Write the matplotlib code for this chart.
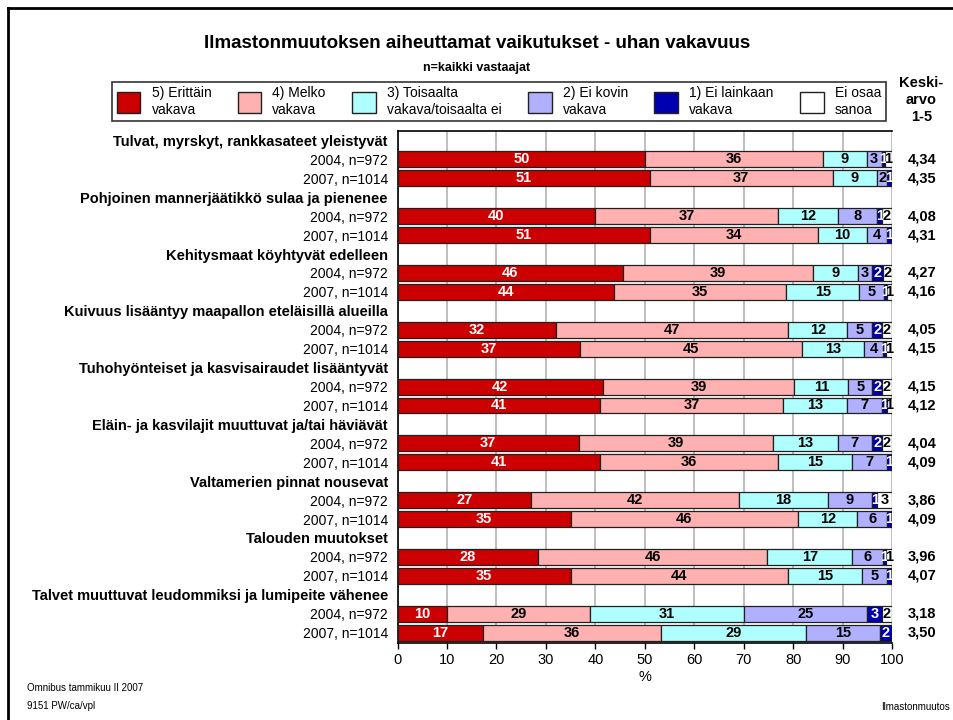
import matplotlib
matplotlib.use('Agg')
import matplotlib.pyplot as plt
from matplotlib.patches import Patch
from matplotlib.lines import Line2D
import numpy as np

plt.rcParams['font.family'] = ['Liberation Sans', 'DejaVu Sans']

## Data

topics = ['Tulvat, myrskyt, rankkasateet yleistyvät',
          'Pohjoinen mannerjäätikkö sulaa ja pienenee',
          'Kehitysmaat köyhtyvät edelleen',
          'Kuivuus lisääntyy maapallon eteläisillä alueilla',
          'Tuhohyönteiset ja kasvisairaudet lisääntyvät',
          'Eläin- ja kasvilajit muuttuvat ja/tai häviävät',
          'Valtamerien pinnat nousevat',
          'Talouden muutokset',
          'Talvet muuttuvat leudommiksi ja lumipeite vähenee']
years = ['2004, n=972', '2007, n=1014']

categories = ['5) Erittäin\nvakava', '4) Melko\nvakava', '3) Toisaalta\nvakava/toisaalta ei',
              '2) Ei kovin\nvakava', '1) Ei lainkaan\nvakava', 'Ei osaa\nsanoa']

# rows: 2004 / 2007 per topic
erittain = [50.1, 51, 40, 51, 45.5, 43.8, 32, 37.0, 41.6, 41, 36.6, 41, 27, 35, 28.4, 35, 10, 17.3]
melko = [36.0, 37, 37, 34, 38.6, 34.8, 47, 44.7, 38.6, 37, 39.4, 36, 42, 46, 46.4, 44, 29, 36.0]
toisaalta = [8.8, 9, 12, 10, 9.0, 14.8, 12, 12.7, 11.0, 13, 13.0, 15, 18, 12, 17.2, 15, 31, 29.3]
ei_kovin = [3.0, 2, 8, 4, 2.9, 4.9, 5, 3.7, 4.8, 7, 7.0, 7, 9, 6, 6.1, 5, 25, 15.0]
ei_lainkaan = [0.7, 1, 1, 1, 2.2, 0.6, 2, 0.6, 2.0, 1, 2.0, 1, 1, 1, 0.6, 1, 3, 2.4]
eos = [1.4, 0, 2, 0, 1.8, 1.1, 2, 1.3, 2.0, 1, 2.0, 0, 3, 0, 1.3, 0, 2, 0]

keskiarvo = [4.34, 4.35, 4.08, 4.31, 4.27, 4.16, 4.05, 4.15, 4.15, 4.12,
             4.04, 4.09, 3.86, 4.09, 3.96, 4.07, 3.18, 3.50]

series = [erittain, melko, toisaalta, ei_kovin, ei_lainkaan, eos]
colors = ['#CC0000', '#FFB0B0', '#B0FFFF', '#B0B0FF', '#0000B0', '#FFFFFF']
text_colors = ['white', 'black', 'black', 'black', 'white', 'black']

## Figure

fig = plt.figure(figsize=(9.54, 7.2), dpi=100)
ax = fig.add_axes([0.4167, 0.1069, 0.935 - 0.4167, 0.818 - 0.1069])

# row positions: header row then two year rows for each topic
labels = []
bar_y = []
for i, t in enumerate(topics):
    labels += [t] + years
    bar_y += [3 * i + 1, 3 * i + 2]
bar_y = np.array(bar_y)

left = np.zeros(len(bar_y))
for vals, col, tcol in zip(series, colors, text_colors):
    vals = np.array(vals, dtype=float)
    ax.barh(bar_y, vals, left=left, height=0.84, color=col,
            edgecolor='#202020', linewidth=0.9, zorder=3)
    for y, l, v in zip(bar_y, left, vals):
        if v > 0:
            ax.text(l + v / 2, y, '%d' % round(v), ha='center', va='center',
                    color=tcol, fontsize=10.5, fontweight='bold', zorder=4)
    left += vals

for y, m in zip(bar_y, keskiarvo):
    ax.text(106.1, y, ('%.2f' % m).replace('.', ','), ha='center', va='center',
            fontsize=10.5, fontweight='bold', clip_on=False)

ax.set_xlim(0, 100)
ax.set_ylim(26.55, -0.5)
ax.set_xticks(np.arange(0, 101, 10))
ax.set_yticks(np.arange(len(labels)))
ax.set_yticklabels(labels, fontsize=10)
for k, tl in enumerate(ax.get_yticklabels()):
    if k % 3 == 0:
        tl.set_fontweight('bold')
        tl.set_fontsize(10.5)
ax.tick_params(axis='y', length=0, pad=7)
ax.tick_params(axis='x', labelsize=10.5, direction='out', length=4, width=1)
ax.set_xlabel('%', fontsize=10.5, labelpad=2)
ax.grid(axis='x', color='#B4B4B4', linewidth=1.2, zorder=0)
ax.spines['right'].set_visible(False)
for s in ['left', 'top', 'bottom']:
    ax.spines[s].set_linewidth(1.2)

handles = [Patch(facecolor=c, edgecolor='#202020', linewidth=1) for c in colors]
leg = fig.legend(handles, categories, loc='center', bbox_to_anchor=(0.523, 0.859),
                 ncol=6, fontsize=10, frameon=True, fancybox=False, edgecolor='black',
                 handlelength=1.7, handleheight=1.9, columnspacing=1.9, handletextpad=0.8,
                 borderpad=0.35)
leg.get_frame().set_linewidth(1.2)

fig.text(0.5, 0.94, 'Ilmastonmuutoksen aiheuttamat vaikutukset - uhan vakavuus',
         ha='center', va='center', fontsize=13.5, fontweight='bold')
fig.text(0.5, 0.906, 'n=kaikki vastaajat', ha='center', va='center',
         fontsize=9, fontweight='bold')
fig.text(0.966, 0.861, 'Keski-\narvo\n1-5', ha='center', va='center',
         fontsize=10.5, fontweight='bold', linespacing=1.3)

fig.text(0.028, 0.045, 'Omnibus tammikuu II 2007', fontsize=7, va='center')
fig.text(0.028, 0.02, '9151 PW/ca/vpl', fontsize=7, va='center')
fig.text(0.996, 0.018, 'Ilmastonmuutos', fontsize=7, ha='right', va='center')

# frame lines on top and left edge
fig.add_artist(Line2D([8 / 954, 1], [1 - 8 / 720, 1 - 8 / 720], transform=fig.transFigure,
                      color='black', linewidth=2))
fig.add_artist(Line2D([8 / 954, 8 / 954], [0, 1 - 8 / 720], transform=fig.transFigure,
                      color='black', linewidth=2))

fig.savefig('out.png', dpi=100)
